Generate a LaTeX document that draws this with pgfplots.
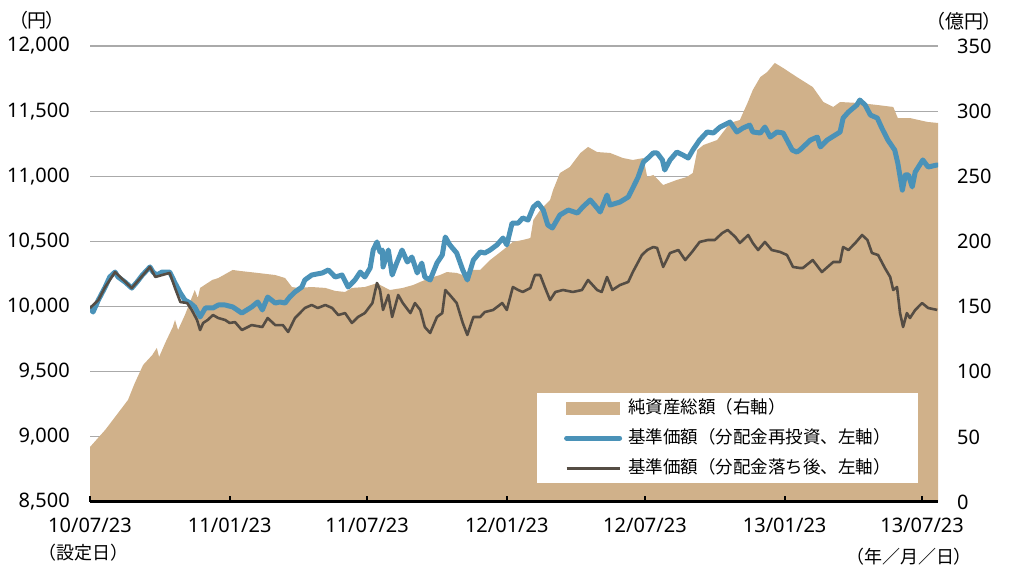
\documentclass[border=0pt]{standalone}
\usepackage{fontspec}
\setmainfont{Noto Sans}
\newfontfamily\jp{Noto Sans CJK JP}
\newfontfamily\jpp[RawFeature=+palt]{Noto Sans CJK JP}
\usepackage{pgfplots}
\pgfplotsset{compat=1.18}
\usepackage{pgfplotstable}

\definecolor{navc}{RGB}{208,177,138}
\definecolor{bluec}{RGB}{74,146,184}
\definecolor{brownc}{RGB}{85,77,68}
\definecolor{gridlight}{RGB}{170,170,170}
\definecolor{griddark}{RGB}{95,95,95}

\pgfplotstableread{
day nav
0 42.2
20 55.3
37 68.3
50 78.3
59 91.3
70 105.2
82 112.8
88 118.2
91 111.3
99 122.0
109 134.3
112 139.7
116 132.0
125 143.5
138 162.7
142 156.6
145 164.3
161 170.4
169 171.9
188 178.1
198 177.3
221 175.8
244 174.2
257 171.9
266 165.0
274 164.3
292 165.0
310 164.3
323 162.0
336 161.2
345 164.3
362 165.0
379 168.1
382 166.6
395 162.7
412 164.3
426 166.6
435 168.9
448 171.9
461 174.2
470 176.5
483 175.8
491 174.2
501 178.1
514 178.1
527 185.7
544 193.4
557 199.6
570 201.1
580 202.6
584 216.5
593 224.1
606 231.8
610 239.5
619 252.5
632 257.1
646 267.9
656 272.5
668 268.6
685 267.9
702 264.0
715 262.5
729 264.0
734 249.4
742 251.0
755 243.3
773 247.2
786 249.4
794 252.5
800 270.2
808 274.0
826 277.8
843 290.9
856 293.2
866 306.2
873 316.2
883 326.2
892 330.0
902 337.0
913 333.1
931 326.2
952 318.5
966 307.0
979 303.2
988 307.0
1014 306.2
1037 304.7
1058 303.2
1064 294.7
1080 294.7
1103 291.7
1117 290.9
}\navtable

\pgfplotstableread{
day nav
0 9989
4 9958
11 10050
20 10150
26 10227
33 10265
37 10227
46 10189
55 10142
62 10189
69 10242
79 10304
83 10265
88 10242
95 10265
105 10265
112 10181
119 10104
125 10050
132 10027
138 9997
145 9920
152 9989
162 9989
169 10012
178 10012
188 9997
200 9950
213 9997
221 10035
227 9974
234 10073
244 10027
250 10035
257 10027
263 10073
270 10112
279 10150
283 10204
292 10242
306 10258
314 10281
323 10227
332 10242
340 10150
349 10204
356 10265
362 10227
369 10296
373 10434
378 10496
382 10419
385 10434
386 10304
393 10434
398 10242
404 10334
411 10434
418 10342
424 10380
431 10258
437 10334
441 10227
448 10204
457 10334
464 10396
468 10534
474 10473
483 10411
491 10281
497 10204
505 10357
514 10419
520 10411
527 10434
536 10473
544 10526
549 10473
556 10641
564 10641
570 10680
577 10664
584 10764
590 10795
597 10741
603 10626
609 10603
619 10703
630 10741
642 10718
649 10764
659 10818
668 10756
672 10726
681 10856
685 10779
698 10802
709 10841
715 10910
722 10994
729 11110
735 11140
742 11179
747 11179
754 11125
757 11048
764 11125
773 11186
781 11163
788 11140
794 11201
803 11278
813 11340
821 11332
830 11378
843 11416
852 11340
860 11370
869 11393
873 11340
883 11332
889 11378
896 11301
905 11340
913 11332
918 11278
925 11201
931 11186
935 11201
949 11278
958 11301
962 11225
971 11278
988 11340
992 11447
999 11493
1010 11547
1014 11585
1021 11547
1028 11470
1037 11447
1043 11370
1051 11278
1060 11201
1064 11102
1070 10894
1074 11010
1078 11010
1083 10918
1087 11033
1097 11125
1104 11071
1116 11087
}\bluetable

\pgfplotstableread{
day nav
0 9989
11 10050
20 10150
33 10265
55 10142
79 10304
86 10227
95 10242
105 10258
112 10142
119 10035
128 10027
134 9974
141 9897
145 9820
149 9874
155 9897
162 9935
169 9912
178 9897
184 9874
191 9881
200 9820
213 9858
227 9843
234 9912
244 9858
254 9858
261 9805
270 9912
283 9989
292 10012
300 9989
310 10012
319 9989
327 9935
336 9950
345 9874
353 9920
362 9950
372 10027
378 10181
382 10127
386 9974
393 10089
398 9920
406 10089
412 10027
422 9950
428 10027
435 9974
441 9843
448 9797
457 9920
464 9950
468 10127
474 10089
483 10027
491 9874
497 9782
505 9920
514 9920
520 9958
531 9974
543 10027
549 9974
557 10150
564 10127
570 10112
580 10142
586 10242
593 10242
599 10150
606 10050
613 10112
623 10127
636 10112
648 10127
656 10204
668 10127
674 10112
681 10227
688 10127
698 10165
709 10189
715 10265
727 10396
734 10434
742 10457
747 10450
755 10304
764 10411
775 10434
784 10357
793 10419
803 10496
814 10511
823 10511
833 10565
840 10588
850 10534
856 10488
867 10549
873 10488
880 10434
889 10496
898 10434
909 10419
918 10396
926 10304
935 10296
939 10296
952 10357
964 10265
979 10342
988 10342
992 10457
999 10434
1008 10488
1017 10549
1024 10511
1030 10411
1038 10396
1047 10296
1054 10227
1058 10127
1063 10150
1067 9950
1071 9843
1076 9950
1080 9912
1087 9974
1096 10027
1104 9989
1116 9974
}\browntable

\begin{document}
\begin{tikzpicture}[x=1bp,y=1bp]
\useasboundingbox (0,0) rectangle (1011,567);
% Right axis: net assets (area) with grid
\begin{axis}[
  at={(90bp,65bp)}, anchor=south west,
  scale only axis, width=848bp, height=456bp,
  xmin=0, xmax=1117, ymin=0, ymax=350,
  hide x axis,
  axis line style={draw=none},
  yticklabel pos=right,
  ytick={0,100,150,200,250},
  extra y ticks={50,300,350},
  ymajorgrids,
  major grid style={gridlight, line width=1.2bp},
  extra y tick style={grid style={griddark, line width=1.2bp}},
  major tick length=0pt,
  tick style={draw=none},
  yticklabel style={anchor=west, inner sep=0pt, xshift=19bp, font=\fontsize{20bp}{24bp}\selectfont},
  /pgf/number format/assume math mode=true,
]
\addplot[fill=navc, draw=none] table[x=day,y=nav] {\navtable} \closedcycle;
\end{axis}
% Left axis: NAV per unit lines
\begin{axis}[
  at={(90bp,65bp)}, anchor=south west,
  scale only axis, width=848bp, height=456bp,
  xmin=0, xmax=1117, ymin=8500, ymax=12000,
  axis x line*=bottom,
  axis y line*=left,
  y axis line style={draw=none},
  x axis line style={line width=3bp, black},
  ytick={8500,9000,9500,10000,10500,11000,11500,12000},
  scaled y ticks=false,
  ytick style={draw=none},
  xtick={0,184,365,549,731,915,1096},
  xticklabels={10/07/23,11/01/23,11/07/23,12/01/23,12/07/23,13/01/23,13/07/23},
  xtick align=inside,
  xtick style={line width=2bp, black},
  major tick length=6bp,
  yticklabel style={anchor=east, inner sep=0pt, xshift=-20bp, font=\fontsize{20bp}{24bp}\selectfont,
    /pgf/number format/fixed, /pgf/number format/precision=0, /pgf/number format/1000 sep={,}},
  xticklabel style={anchor=north, inner sep=0pt, yshift=-16bp, font=\fontsize{20bp}{24bp}\selectfont},
  /pgf/number format/assume math mode=true,
  legend style={at={(0.527,0.239)}, anchor=north west, fill=white, draw=none,
    font=\jp\fontsize{17.5bp}{21bp}\selectfont,
    inner xsep=27bp, inner ysep=7bp, row sep=14bp, column sep=6bp,
    nodes={inner sep=0pt, text height=13bp, text depth=3bp},
    cells={anchor=west}},
  legend image code/.code={\draw[#1] (0bp,0bp) -- (53bp,0bp);},
]
\addlegendimage{legend image code/.code={\fill[navc] (0bp,-6bp) rectangle (53bp,6bp);}}
\addlegendentry{純資産総額（右軸）}
\addplot[bluec, line width=5bp, line join=round, line cap=round] table[x=day,y=nav] {\bluetable};
\addlegendentry{基準価額（分配金再投資、左軸）}
\addplot[brownc, line width=2.6bp, line join=round] table[x=day,y=nav] {\browntable};
\addlegendentry{基準価額（分配金落ち後、左軸）}
\end{axis}
\node[font=\jpp\fontsize{19bp}{22bp}\selectfont, inner sep=0pt] at (37,547) {（円）};
\node[font=\jpp\fontsize{19bp}{22bp}\selectfont, inner sep=0pt] at (964,546) {（億円）};
\node[font=\jp\fontsize{18bp}{22bp}\selectfont, inner sep=0pt] at (83,14) {（設定日）};
\node[font=\jpp\fontsize{18bp}{22bp}\selectfont, inner sep=0pt] at (909,10) {（年／月／日）};
\end{tikzpicture}
\end{document}
